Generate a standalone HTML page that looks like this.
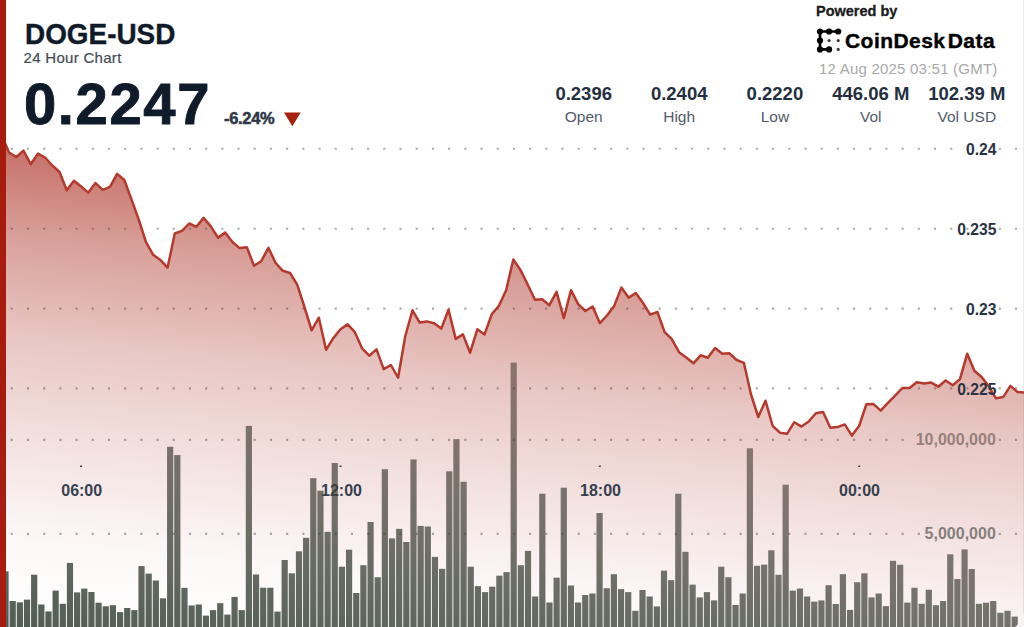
<!DOCTYPE html>
<html><head><meta charset="utf-8">
<style>
html,body{margin:0;padding:0;}
body{width:1024px;height:627px;overflow:hidden;background:#fff;position:relative;font-family:"Liberation Sans",sans-serif;}
.t{position:absolute;white-space:nowrap;line-height:1;}
#bar{position:absolute;left:0;top:0;width:5.8px;height:627px;background:#a81c10;}
svg{position:absolute;left:0;top:0;}
#wrap{position:absolute;left:0;top:0;width:1024px;height:627px;overflow:hidden;}
</style></head><body><div id="wrap">
<div style="position:absolute;left:1023px;top:0;width:1px;height:627px;background:#ececec;"></div>
<svg width="1024" height="627" viewBox="0 0 1024 627">
<defs>
<linearGradient id="ag" gradientUnits="userSpaceOnUse" x1="0.00" y1="136.00" x2="-51.74" y2="653.40"><stop offset="0.0000" stop-color="#aa2d20" stop-opacity="0.7"/><stop offset="0.1923" stop-color="#aa2d20" stop-opacity="0.45"/><stop offset="0.3846" stop-color="#aa2d20" stop-opacity="0.265"/><stop offset="0.5769" stop-color="#aa2d20" stop-opacity="0.14"/><stop offset="0.7692" stop-color="#aa2d20" stop-opacity="0.035"/><stop offset="0.8846" stop-color="#aa2d20" stop-opacity="0.01"/><stop offset="1.0000" stop-color="#aa2d20" stop-opacity="0.0"/></linearGradient>
<linearGradient id="bg" gradientUnits="userSpaceOnUse" x1="513.00" y1="206.15" x2="422.56" y2="740.71">
<stop offset="0" stop-color="#503a30" stop-opacity="0.45"/>
<stop offset="0.3" stop-color="#463c34" stop-opacity="0.585"/>
<stop offset="1" stop-color="#34463a" stop-opacity="0.9"/>
</linearGradient>
</defs>
<path d="M1.89,136.00 L9.09,152.50 L16.30,157.00 L23.50,150.60 L30.70,164.20 L37.91,153.60 L45.11,157.50 L52.32,165.50 L59.52,172.00 L66.72,190.30 L73.93,180.70 L81.13,186.50 L88.33,192.60 L95.54,183.10 L102.74,189.90 L109.94,186.80 L117.15,173.90 L124.35,180.00 L131.55,199.60 L138.76,219.70 L145.96,242.00 L153.17,254.80 L160.37,259.90 L167.57,267.70 L174.78,233.50 L181.98,230.90 L189.18,223.50 L196.39,226.80 L203.59,217.90 L210.79,226.40 L218.00,237.60 L225.20,232.60 L232.41,242.00 L239.61,248.10 L246.81,247.20 L254.02,265.80 L261.22,261.20 L268.42,247.80 L275.63,263.00 L282.83,270.80 L290.03,273.00 L297.24,284.70 L304.44,307.00 L311.64,330.40 L318.85,317.70 L326.05,349.80 L333.26,338.20 L340.46,329.30 L347.66,324.40 L354.87,332.20 L362.07,348.30 L369.27,355.70 L376.48,349.40 L383.68,369.10 L390.88,365.00 L398.09,377.70 L405.29,336.00 L412.50,310.30 L419.70,322.60 L426.90,321.40 L434.11,323.20 L441.31,328.60 L448.51,309.80 L455.72,338.90 L462.92,334.40 L470.12,352.70 L477.33,329.30 L484.53,334.40 L491.73,314.30 L498.94,305.80 L506.14,290.20 L513.35,259.50 L520.55,270.10 L527.75,284.70 L534.96,299.80 L542.16,299.20 L549.36,305.20 L556.57,291.80 L563.77,318.10 L570.97,290.20 L578.18,304.10 L585.38,311.00 L592.59,306.50 L599.79,323.10 L606.99,315.50 L614.20,305.90 L621.40,287.60 L628.60,297.60 L635.81,293.10 L643.01,303.00 L650.21,314.70 L657.42,312.00 L664.62,332.10 L671.82,339.20 L679.03,352.20 L686.23,357.50 L693.44,363.30 L700.64,355.30 L707.84,357.70 L715.05,348.10 L722.25,353.70 L729.45,353.30 L736.66,360.00 L743.86,362.80 L751.06,394.70 L758.27,417.00 L765.47,400.70 L772.68,426.00 L779.88,432.70 L787.08,433.80 L794.29,422.20 L801.49,426.60 L808.69,421.50 L815.90,413.20 L823.10,411.90 L830.30,427.70 L837.51,427.10 L844.71,424.40 L851.91,435.60 L859.12,426.00 L866.32,404.30 L873.53,404.10 L880.73,410.60 L887.93,402.90 L895.14,395.60 L902.34,388.00 L909.54,388.00 L916.75,382.20 L923.95,383.60 L931.15,382.60 L938.36,386.70 L945.56,380.50 L952.77,385.30 L959.97,379.10 L967.17,353.80 L974.38,370.80 L981.58,377.00 L988.78,386.30 L995.99,398.30 L1003.19,397.10 L1010.39,385.90 L1017.60,392.10 L1024.80,392.50 L1024.80,640 L1.89,640 Z" fill="url(#ag)"/>
<line x1="10.75" y1="148.8" x2="1024" y2="148.8" stroke="#505050" stroke-opacity="0.48" stroke-width="2.1" stroke-dasharray="2.1 14.097"/>
<line x1="10.75" y1="228.7" x2="1024" y2="228.7" stroke="#505050" stroke-opacity="0.48" stroke-width="2.1" stroke-dasharray="2.1 14.097"/>
<line x1="10.75" y1="308.6" x2="1024" y2="308.6" stroke="#505050" stroke-opacity="0.48" stroke-width="2.1" stroke-dasharray="2.1 14.097"/>
<line x1="10.75" y1="388.4" x2="1024" y2="388.4" stroke="#505050" stroke-opacity="0.48" stroke-width="2.1" stroke-dasharray="2.1 14.097"/>
<line x1="10.75" y1="439.9" x2="910" y2="439.9" stroke="#505050" stroke-opacity="0.48" stroke-width="2.1" stroke-dasharray="2.1 14.097"/><line x1="998.73" y1="439.9" x2="1024" y2="439.9" stroke="#505050" stroke-opacity="0.48" stroke-width="2.1" stroke-dasharray="2.1 14.097"/>
<line x1="10.75" y1="533.9" x2="925" y2="533.9" stroke="#505050" stroke-opacity="0.48" stroke-width="2.1" stroke-dasharray="2.1 14.097"/><line x1="998.73" y1="533.9" x2="1024" y2="533.9" stroke="#505050" stroke-opacity="0.48" stroke-width="2.1" stroke-dasharray="2.1 14.097"/>
<rect x="80.1" y="465.5" width="2" height="1.5" fill="#444"/>
<rect x="339.5" y="465.5" width="2" height="1.5" fill="#444"/>
<rect x="598.8" y="465.5" width="2" height="1.5" fill="#444"/>
<rect x="858.2" y="465.5" width="2" height="1.5" fill="#444"/>
<g font-family="Liberation Sans" font-weight="bold" font-size="16" fill="#364050" text-anchor="middle">
<text x="81.7" y="496.4">06:00</text>
<text x="341.5" y="496.4">12:00</text>
<text x="600.5" y="496.4">18:00</text>
<text x="859.5" y="496.4">00:00</text>
</g>
<g font-family="Liberation Sans" font-weight="bold" font-size="16" text-anchor="end">
<text x="995.8" y="445.0" fill="#96817c">10,000,000</text>
<text x="995.8" y="539.0" fill="#877f7d">5,000,000</text>
</g>
<g fill="url(#bg)">
<rect x="2.44" y="571.4" width="6.2" height="68.6"/>
<rect x="9.60" y="601.0" width="6.2" height="39.0"/>
<rect x="16.76" y="602.3" width="6.2" height="37.7"/>
<rect x="23.91" y="599.6" width="6.2" height="40.4"/>
<rect x="31.07" y="574.7" width="6.2" height="65.3"/>
<rect x="38.23" y="604.5" width="6.2" height="35.5"/>
<rect x="45.38" y="611.4" width="6.2" height="28.6"/>
<rect x="52.54" y="590.6" width="6.2" height="49.4"/>
<rect x="59.70" y="603.8" width="6.2" height="36.2"/>
<rect x="66.86" y="562.9" width="6.2" height="77.1"/>
<rect x="74.01" y="592.4" width="6.2" height="47.6"/>
<rect x="81.17" y="588.6" width="6.2" height="51.4"/>
<rect x="88.33" y="592.0" width="6.2" height="48.0"/>
<rect x="95.48" y="602.7" width="6.2" height="37.3"/>
<rect x="102.64" y="606.3" width="6.2" height="33.7"/>
<rect x="109.80" y="605.2" width="6.2" height="34.8"/>
<rect x="116.96" y="612.1" width="6.2" height="27.9"/>
<rect x="124.11" y="608.0" width="6.2" height="32.0"/>
<rect x="131.27" y="610.1" width="6.2" height="29.9"/>
<rect x="138.43" y="566.1" width="6.2" height="73.9"/>
<rect x="145.58" y="573.6" width="6.2" height="66.4"/>
<rect x="152.74" y="580.5" width="6.2" height="59.5"/>
<rect x="159.90" y="598.3" width="6.2" height="41.7"/>
<rect x="167.05" y="446.8" width="6.2" height="193.2"/>
<rect x="174.21" y="455.1" width="6.2" height="184.9"/>
<rect x="181.37" y="587.9" width="6.2" height="52.1"/>
<rect x="188.53" y="605.5" width="6.2" height="34.5"/>
<rect x="195.68" y="604.5" width="6.2" height="35.5"/>
<rect x="202.84" y="615.6" width="6.2" height="24.4"/>
<rect x="210.00" y="610.1" width="6.2" height="29.9"/>
<rect x="217.15" y="603.1" width="6.2" height="36.9"/>
<rect x="224.31" y="614.6" width="6.2" height="25.4"/>
<rect x="231.47" y="596.9" width="6.2" height="43.1"/>
<rect x="238.62" y="610.1" width="6.2" height="29.9"/>
<rect x="245.78" y="425.9" width="6.2" height="214.1"/>
<rect x="252.94" y="574.5" width="6.2" height="65.5"/>
<rect x="260.09" y="587.7" width="6.2" height="52.3"/>
<rect x="267.25" y="587.7" width="6.2" height="52.3"/>
<rect x="274.41" y="611.6" width="6.2" height="28.4"/>
<rect x="281.57" y="560.0" width="6.2" height="80.0"/>
<rect x="288.72" y="573.3" width="6.2" height="66.7"/>
<rect x="295.88" y="551.3" width="6.2" height="88.7"/>
<rect x="303.04" y="537.8" width="6.2" height="102.2"/>
<rect x="310.19" y="478.2" width="6.2" height="161.8"/>
<rect x="317.35" y="490.7" width="6.2" height="149.3"/>
<rect x="324.51" y="531.8" width="6.2" height="108.2"/>
<rect x="331.66" y="463.0" width="6.2" height="177.0"/>
<rect x="338.82" y="566.7" width="6.2" height="73.3"/>
<rect x="345.98" y="549.7" width="6.2" height="90.3"/>
<rect x="353.14" y="593.0" width="6.2" height="47.0"/>
<rect x="360.29" y="565.2" width="6.2" height="74.8"/>
<rect x="367.45" y="522.0" width="6.2" height="118.0"/>
<rect x="374.61" y="577.2" width="6.2" height="62.8"/>
<rect x="381.76" y="469.2" width="6.2" height="170.8"/>
<rect x="388.92" y="538.4" width="6.2" height="101.6"/>
<rect x="396.08" y="528.8" width="6.2" height="111.2"/>
<rect x="403.23" y="542.0" width="6.2" height="98.0"/>
<rect x="410.39" y="459.4" width="6.2" height="180.6"/>
<rect x="417.55" y="525.9" width="6.2" height="114.1"/>
<rect x="424.71" y="526.5" width="6.2" height="113.5"/>
<rect x="431.86" y="556.9" width="6.2" height="83.1"/>
<rect x="439.02" y="568.8" width="6.2" height="71.2"/>
<rect x="446.18" y="471.3" width="6.2" height="168.7"/>
<rect x="453.33" y="439.1" width="6.2" height="200.9"/>
<rect x="460.49" y="481.7" width="6.2" height="158.3"/>
<rect x="467.65" y="566.7" width="6.2" height="73.3"/>
<rect x="474.80" y="586.1" width="6.2" height="53.9"/>
<rect x="481.96" y="592.1" width="6.2" height="47.9"/>
<rect x="489.12" y="586.7" width="6.2" height="53.3"/>
<rect x="496.28" y="575.7" width="6.2" height="64.3"/>
<rect x="503.43" y="572.1" width="6.2" height="67.9"/>
<rect x="510.59" y="362.6" width="6.2" height="277.4"/>
<rect x="517.75" y="565.2" width="6.2" height="74.8"/>
<rect x="524.90" y="550.9" width="6.2" height="89.1"/>
<rect x="532.06" y="596.5" width="6.2" height="43.5"/>
<rect x="539.22" y="493.7" width="6.2" height="146.3"/>
<rect x="546.38" y="602.5" width="6.2" height="37.5"/>
<rect x="553.53" y="577.7" width="6.2" height="62.3"/>
<rect x="560.69" y="487.7" width="6.2" height="152.3"/>
<rect x="567.85" y="585.5" width="6.2" height="54.5"/>
<rect x="575.00" y="602.5" width="6.2" height="37.5"/>
<rect x="582.16" y="595.0" width="6.2" height="45.0"/>
<rect x="589.32" y="593.5" width="6.2" height="46.5"/>
<rect x="596.47" y="513.0" width="6.2" height="127.0"/>
<rect x="603.63" y="588.2" width="6.2" height="51.8"/>
<rect x="610.79" y="574.2" width="6.2" height="65.8"/>
<rect x="617.95" y="589.1" width="6.2" height="50.9"/>
<rect x="625.10" y="592.1" width="6.2" height="47.9"/>
<rect x="632.26" y="610.8" width="6.2" height="29.2"/>
<rect x="639.42" y="590.0" width="6.2" height="50.0"/>
<rect x="646.57" y="596.5" width="6.2" height="43.5"/>
<rect x="653.73" y="606.4" width="6.2" height="33.6"/>
<rect x="660.89" y="570.6" width="6.2" height="69.4"/>
<rect x="668.04" y="580.1" width="6.2" height="59.9"/>
<rect x="675.20" y="493.7" width="6.2" height="146.3"/>
<rect x="682.36" y="551.8" width="6.2" height="88.2"/>
<rect x="689.51" y="584.6" width="6.2" height="55.4"/>
<rect x="696.67" y="597.4" width="6.2" height="42.6"/>
<rect x="703.83" y="592.1" width="6.2" height="47.9"/>
<rect x="710.99" y="600.4" width="6.2" height="39.6"/>
<rect x="718.14" y="566.7" width="6.2" height="73.3"/>
<rect x="725.30" y="577.2" width="6.2" height="62.8"/>
<rect x="732.46" y="604.9" width="6.2" height="35.1"/>
<rect x="739.61" y="593.5" width="6.2" height="46.5"/>
<rect x="746.77" y="448.3" width="6.2" height="191.7"/>
<rect x="753.93" y="565.8" width="6.2" height="74.2"/>
<rect x="761.09" y="564.6" width="6.2" height="75.4"/>
<rect x="768.24" y="550.3" width="6.2" height="89.7"/>
<rect x="775.40" y="574.8" width="6.2" height="65.2"/>
<rect x="782.56" y="484.7" width="6.2" height="155.3"/>
<rect x="789.71" y="590.6" width="6.2" height="49.4"/>
<rect x="796.87" y="588.5" width="6.2" height="51.5"/>
<rect x="804.03" y="596.5" width="6.2" height="43.5"/>
<rect x="811.18" y="601.6" width="6.2" height="38.4"/>
<rect x="818.34" y="600.4" width="6.2" height="39.6"/>
<rect x="825.50" y="585.2" width="6.2" height="54.8"/>
<rect x="832.65" y="604.0" width="6.2" height="36.0"/>
<rect x="839.81" y="574.2" width="6.2" height="65.8"/>
<rect x="846.97" y="609.9" width="6.2" height="30.1"/>
<rect x="854.13" y="582.2" width="6.2" height="57.8"/>
<rect x="861.28" y="573.3" width="6.2" height="66.7"/>
<rect x="868.44" y="597.4" width="6.2" height="42.6"/>
<rect x="875.60" y="593.5" width="6.2" height="46.5"/>
<rect x="882.75" y="606.1" width="6.2" height="33.9"/>
<rect x="889.91" y="560.8" width="6.2" height="79.2"/>
<rect x="897.07" y="564.7" width="6.2" height="75.3"/>
<rect x="904.23" y="602.6" width="6.2" height="37.4"/>
<rect x="911.38" y="587.8" width="6.2" height="52.2"/>
<rect x="918.54" y="603.8" width="6.2" height="36.2"/>
<rect x="925.70" y="589.7" width="6.2" height="50.3"/>
<rect x="932.85" y="605.2" width="6.2" height="34.8"/>
<rect x="940.01" y="601.0" width="6.2" height="39.0"/>
<rect x="947.17" y="554.3" width="6.2" height="85.7"/>
<rect x="954.32" y="579.0" width="6.2" height="61.0"/>
<rect x="961.48" y="549.4" width="6.2" height="90.6"/>
<rect x="968.64" y="569.0" width="6.2" height="71.0"/>
<rect x="975.80" y="603.8" width="6.2" height="36.2"/>
<rect x="982.95" y="602.7" width="6.2" height="37.3"/>
<rect x="990.11" y="601.0" width="6.2" height="39.0"/>
<rect x="997.27" y="612.8" width="6.2" height="27.2"/>
<rect x="1004.42" y="610.8" width="6.2" height="29.2"/>
<rect x="1011.58" y="616.6" width="6.2" height="23.4"/>
</g>
<path d="M1.89,136.00 L9.09,152.50 L16.30,157.00 L23.50,150.60 L30.70,164.20 L37.91,153.60 L45.11,157.50 L52.32,165.50 L59.52,172.00 L66.72,190.30 L73.93,180.70 L81.13,186.50 L88.33,192.60 L95.54,183.10 L102.74,189.90 L109.94,186.80 L117.15,173.90 L124.35,180.00 L131.55,199.60 L138.76,219.70 L145.96,242.00 L153.17,254.80 L160.37,259.90 L167.57,267.70 L174.78,233.50 L181.98,230.90 L189.18,223.50 L196.39,226.80 L203.59,217.90 L210.79,226.40 L218.00,237.60 L225.20,232.60 L232.41,242.00 L239.61,248.10 L246.81,247.20 L254.02,265.80 L261.22,261.20 L268.42,247.80 L275.63,263.00 L282.83,270.80 L290.03,273.00 L297.24,284.70 L304.44,307.00 L311.64,330.40 L318.85,317.70 L326.05,349.80 L333.26,338.20 L340.46,329.30 L347.66,324.40 L354.87,332.20 L362.07,348.30 L369.27,355.70 L376.48,349.40 L383.68,369.10 L390.88,365.00 L398.09,377.70 L405.29,336.00 L412.50,310.30 L419.70,322.60 L426.90,321.40 L434.11,323.20 L441.31,328.60 L448.51,309.80 L455.72,338.90 L462.92,334.40 L470.12,352.70 L477.33,329.30 L484.53,334.40 L491.73,314.30 L498.94,305.80 L506.14,290.20 L513.35,259.50 L520.55,270.10 L527.75,284.70 L534.96,299.80 L542.16,299.20 L549.36,305.20 L556.57,291.80 L563.77,318.10 L570.97,290.20 L578.18,304.10 L585.38,311.00 L592.59,306.50 L599.79,323.10 L606.99,315.50 L614.20,305.90 L621.40,287.60 L628.60,297.60 L635.81,293.10 L643.01,303.00 L650.21,314.70 L657.42,312.00 L664.62,332.10 L671.82,339.20 L679.03,352.20 L686.23,357.50 L693.44,363.30 L700.64,355.30 L707.84,357.70 L715.05,348.10 L722.25,353.70 L729.45,353.30 L736.66,360.00 L743.86,362.80 L751.06,394.70 L758.27,417.00 L765.47,400.70 L772.68,426.00 L779.88,432.70 L787.08,433.80 L794.29,422.20 L801.49,426.60 L808.69,421.50 L815.90,413.20 L823.10,411.90 L830.30,427.70 L837.51,427.10 L844.71,424.40 L851.91,435.60 L859.12,426.00 L866.32,404.30 L873.53,404.10 L880.73,410.60 L887.93,402.90 L895.14,395.60 L902.34,388.00 L909.54,388.00 L916.75,382.20 L923.95,383.60 L931.15,382.60 L938.36,386.70 L945.56,380.50 L952.77,385.30 L959.97,379.10 L967.17,353.80 L974.38,370.80 L981.58,377.00 L988.78,386.30 L995.99,398.30 L1003.19,397.10 L1010.39,385.90 L1017.60,392.10 L1024.80,392.50" fill="none" stroke="#b5392d" stroke-width="2.5" stroke-linejoin="round"/>
<g font-family="Liberation Sans" font-weight="bold" font-size="15.7" fill="#2a3342" text-anchor="end">
<text x="996.5" y="154.9">0.24</text>
<text x="996.5" y="234.9">0.235</text>
<text x="996.5" y="314.8">0.23</text>
<text x="996.5" y="394.6">0.225</text>
</g>
</svg>
<div id="bar"></div>
<div class="t" style="left:24.5px;top:19px;font-size:30px;font-weight:bold;color:#0f1a2a;-webkit-text-stroke:0.4px #0f1a2a;transform:scaleX(0.93);transform-origin:0 0;">DOGE-USD</div>
<div class="t" style="left:23.5px;top:50px;font-size:15px;color:#434b58;letter-spacing:0.3px;-webkit-text-stroke:0.2px #434b58;">24 Hour Chart</div>
<div class="t" style="left:24px;top:74.5px;font-size:58px;font-weight:bold;color:#0f1a2a;letter-spacing:1.6px;-webkit-text-stroke:0.9px #0f1a2a;">0.2247</div>
<div class="t" style="left:224px;top:110px;font-size:16.5px;font-weight:bold;color:#2e3744;-webkit-text-stroke:0.5px #2e3744;letter-spacing:-0.3px;">-6.24%</div>
<svg width="1024" height="627">
<polygon points="284,112.5 300.7,112.5 292.35,126.3" fill="#a8200f"/>
<g stroke="#000" stroke-width="2.6" stroke-linecap="round" fill="none">
<polyline points="838.2,31.5 820,31.5 820,49.4 829.1,49.4"/>
</g>
<g fill="#000">
<circle cx="820" cy="31.5" r="3.1"/><circle cx="829.1" cy="31.5" r="3.1"/><circle cx="838.2" cy="31.5" r="3.1"/>
<circle cx="820" cy="40.6" r="3.1"/><circle cx="820" cy="49.4" r="3.1"/><circle cx="829.1" cy="49.4" r="3.1"/>
<g fill="#3a3a3a"><circle cx="829.1" cy="40.6" r="1.6"/><circle cx="838.2" cy="40.6" r="1.6"/><circle cx="838.2" cy="49.4" r="1.6"/></g>
</g>
</svg>
<div class="t" style="left:816px;top:4px;font-size:14.5px;font-weight:bold;color:#1a1a1a;-webkit-text-stroke:0.3px #1a1a1a;">Powered by</div>
<div class="t" style="left:845px;top:30px;font-size:21px;font-weight:bold;color:#000;letter-spacing:0.45px;word-spacing:-4px;-webkit-text-stroke:0.4px #000;">CoinDesk Data</div>
<div class="t" style="left:819px;top:61px;font-size:15px;color:#a8a8a8;letter-spacing:0.22px;">12 Aug 2025 03:51 (GMT)</div>
<div class="t" style="left:523.7px;width:120px;text-align:center;top:85px;font-size:18.5px;font-weight:bold;color:#243040;">0.2396</div>
<div class="t" style="left:523.7px;width:120px;text-align:center;top:108.5px;font-size:15.5px;color:#535b68;">Open</div>
<div class="t" style="left:619.2px;width:120px;text-align:center;top:85px;font-size:18.5px;font-weight:bold;color:#243040;">0.2404</div>
<div class="t" style="left:619.2px;width:120px;text-align:center;top:108.5px;font-size:15.5px;color:#535b68;">High</div>
<div class="t" style="left:714.9px;width:120px;text-align:center;top:85px;font-size:18.5px;font-weight:bold;color:#243040;">0.2220</div>
<div class="t" style="left:714.9px;width:120px;text-align:center;top:108.5px;font-size:15.5px;color:#535b68;">Low</div>
<div class="t" style="left:810.8px;width:120px;text-align:center;top:85px;font-size:18.5px;font-weight:bold;color:#243040;">446.06 M</div>
<div class="t" style="left:810.8px;width:120px;text-align:center;top:108.5px;font-size:15.5px;color:#535b68;">Vol</div>
<div class="t" style="left:906.8px;width:120px;text-align:center;top:85px;font-size:18.5px;font-weight:bold;color:#243040;">102.39 M</div>
<div class="t" style="left:906.8px;width:120px;text-align:center;top:108.5px;font-size:15.5px;color:#535b68;">Vol USD</div>

<svg width="1024" height="627"><path d="M1024,606 A22,22 0 0 1 1015,627 L1024,627 Z" fill="#f4f4f4"/></svg>
</div></body></html>
